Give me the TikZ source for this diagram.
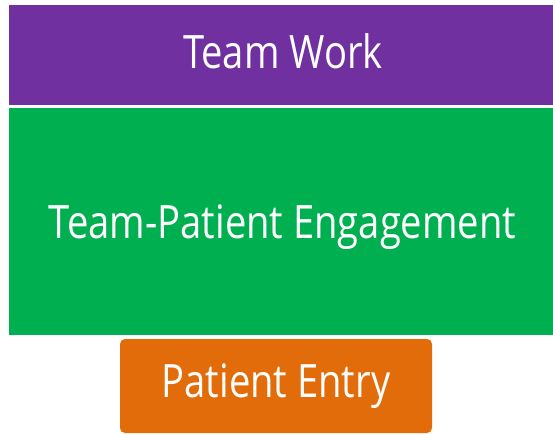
\documentclass[tikz,border=0pt]{standalone}
\usepackage{fontspec}
\setmainfont{Open Sans}[FakeStretch=0.83]
\definecolor{tierpurple}{HTML}{7030A0}
\definecolor{tiergreen}{HTML}{00B050}
\definecolor{tierorange}{HTML}{E36C0A}
\begin{document}
\begin{tikzpicture}[x=1pt,y=-1pt,
  label/.style={text=white, anchor=base, inner sep=0pt, font=\fontsize{46}{56}\selectfont}]
\useasboundingbox (0,0) rectangle (553,434);
% stacked tiers
\fill[tierpurple] (9,5) rectangle (553,105);
\fill[tiergreen] (9,108) rectangle (553,335);
\fill[tierorange, rounded corners=5pt] (120,339) rectangle (432,433);
% tier labels
\node[label] (work) at (283,68) {Team Work};
\node[label] (engage) at (282.5,238) {Team-Patient Engagement};
\node[label] (entry) at (276,397) {Patient Entry};
\end{tikzpicture}
\end{document}
